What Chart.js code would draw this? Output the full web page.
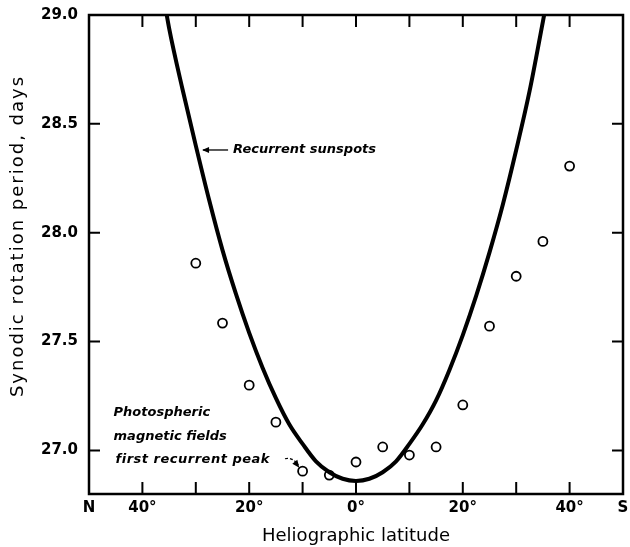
<!DOCTYPE html>
<html><head><meta charset="utf-8">
<script src="https://cdn.jsdelivr.net/npm/chart.js@4/dist/chart.umd.min.js"></script>
<style>html,body{margin:0;padding:0;background:#fff;}canvas{display:block;}</style>
</head><body>
<canvas id="c" width="630" height="547"></canvas>
<script>
// Photospheric magnetic fields, first recurrent peak (circles)
const fieldLatitudes = [-30, -25, -20, -15, -10, -5, 0, 5, 10, 15, 20, 25, 30, 35, 40];
const fieldPeriods   = [27.86, 27.585, 27.30, 27.13, 26.905, 26.887, 26.947, 27.016, 26.979, 27.016, 27.209, 27.571, 27.80, 27.96, 28.306];
// Recurrent sunspots (curve)
const spotLatitudes = [-36, -35, -32.5, -30, -27.5, -25, -22.5, -20, -17.5, -15, -12.5, -10, -7.5, -5, -2.5, 0, 2.5, 5, 7.5, 10, 12.5, 15, 17.5, 20, 22.5, 25, 27.5, 30, 32.5, 35, 36];
const spotPeriods   = [29.08, 28.94, 28.66, 28.40, 28.15, 27.92, 27.72, 27.54, 27.38, 27.24, 27.12, 27.03, 26.95, 26.90, 26.87, 26.86, 26.87, 26.90, 26.95, 27.03, 27.12, 27.23, 27.37, 27.53, 27.71, 27.91, 28.13, 28.38, 28.65, 28.97, 29.10];
// Axis ticks
const xTickValues = [-50, -40, -30, -20, -10, 0, 10, 20, 30, 40, 50];
const xTickLabels = ['N', '40°', '', '20°', '', '0°', '', '20°', '', '40°', 'S'];
const yTickValues = [27.0, 27.5, 28.0, 28.5, 29.0];
const yTitle = 'Synodic rotation period, days';

const FONT = "'DejaVu Sans', sans-serif";

const framePlugin = {
  id: 'frame',
  afterDatasetsDraw(chart) {
    const {ctx, chartArea: a, scales: {x, y}} = chart;
    ctx.save();
    ctx.strokeStyle = '#000';
    ctx.lineWidth = 2.5;
    ctx.strokeRect(a.left, a.top, a.right - a.left, a.bottom - a.top);
    ctx.lineWidth = 2;
    ctx.beginPath();
    xTickValues.forEach(v => {
      if (v <= -50 || v >= 50) return;
      const px = x.getPixelForValue(v);
      ctx.moveTo(px, a.bottom); ctx.lineTo(px, a.bottom - 12);
      ctx.moveTo(px, a.top); ctx.lineTo(px, a.top + 12);
    });
    yTickValues.forEach(v => {
      if (v >= 29) return;
      const py = y.getPixelForValue(v);
      ctx.moveTo(a.left, py); ctx.lineTo(a.left + 11, py);
      ctx.moveTo(a.right, py); ctx.lineTo(a.right - 11, py);
    });
    ctx.stroke();

    // y axis title (wide-spaced)
    ctx.save();
    ctx.translate(18, 236);
    ctx.rotate(-Math.PI / 2);
    ctx.font = "18px " + FONT;
    ctx.letterSpacing = '2px';
    ctx.textAlign = 'center';
    ctx.textBaseline = 'middle';
    ctx.fillStyle = '#000';
    ctx.fillText(yTitle, 0, 0);
    ctx.restore();

    // annotations
    ctx.fillStyle = '#000';
    ctx.font = "italic bold 13px " + FONT;
    ctx.textBaseline = 'middle';
    ctx.textAlign = 'left';
    const ry = y.getPixelForValue(28.38);
    const rx = x.getPixelForValue(-29.2);
    ctx.fillText('Recurrent sunspots', rx + 33, ry);
    ctx.lineWidth = 1.3;
    ctx.beginPath();
    ctx.moveTo(rx + 28, ry); ctx.lineTo(rx + 3, ry);
    ctx.stroke();
    ctx.beginPath();
    ctx.moveTo(rx + 2, ry); ctx.lineTo(rx + 9, ry - 3); ctx.lineTo(rx + 9, ry + 3); ctx.closePath();
    ctx.fill();

    const lx = x.getPixelForValue(-45.4);
    ctx.fillText('Photospheric', lx, y.getPixelForValue(27.172));
    ctx.fillText('magnetic fields', lx, y.getPixelForValue(27.062));
    ctx.save();
    ctx.letterSpacing = '0.5px';
    ctx.fillText('first recurrent peak', lx + 2, y.getPixelForValue(26.956));
    ctx.restore();
    // dashed curved arrow to the -10 point
    const ax = x.getPixelForValue(-13.3), ay = y.getPixelForValue(26.962);
    const bx = x.getPixelForValue(-10.8), by = y.getPixelForValue(26.925);
    ctx.setLineDash([3, 2]);
    ctx.lineWidth = 1.2;
    ctx.beginPath();
    ctx.moveTo(ax, ay);
    ctx.quadraticCurveTo(bx - 6, ay - 2, bx, by - 2);
    ctx.stroke();
    ctx.setLineDash([]);
    ctx.beginPath();
    ctx.moveTo(bx + 1, by + 1); ctx.lineTo(bx - 6, by - 3); ctx.lineTo(bx - 1, by - 7); ctx.closePath();
    ctx.fill();
    ctx.restore();
  }
};

new Chart(document.getElementById('c'), {
  type: 'scatter',
  data: {
    datasets: [
      {
        label: 'Recurrent sunspots',
        data: spotLatitudes.map((v, i) => ({x: v, y: spotPeriods[i]})),
        showLine: true,
        borderColor: '#000',
        borderWidth: 4,
        pointRadius: 0,
        cubicInterpolationMode: 'monotone',
        fill: false
      },
      {
        label: 'Photospheric magnetic fields first recurrent peak',
        data: fieldLatitudes.map((v, i) => ({x: v, y: fieldPeriods[i]})),
        showLine: false,
        pointRadius: 4.5,
        pointBorderWidth: 1.8,
        pointBorderColor: '#000',
        pointBackgroundColor: '#fff'
      }
    ]
  },
  options: {
    responsive: false,
    animation: false,
    devicePixelRatio: 1,
    layout: {padding: {top: 15, right: 7, left: 0, bottom: 0}},
    plugins: {legend: {display: false}, tooltip: {enabled: false}},
    scales: {
      x: {
        type: 'linear', min: -50, max: 50,
        afterBuildTicks: s => { s.ticks = xTickValues.map(v => ({value: v})); },
        afterFit: s => { s.height = 53; s.paddingLeft = 0; s.paddingRight = 0; },
        grid: {display: false, drawTicks: false},
        border: {display: false},
        ticks: {
          autoSkip: false, maxRotation: 0, padding: 5, color: '#000',
          font: {family: FONT, size: 15, weight: 'bold'},
          callback: (v) => { const i = xTickValues.indexOf(v); return i >= 0 ? xTickLabels[i] : ''; }
        },
        title: {display: true, text: 'Heliographic latitude', color: '#000',
          font: {family: FONT, size: 18}, padding: {top: 3, bottom: 0}}
      },
      y: {
        type: 'linear', min: 26.8, max: 29.0,
        afterBuildTicks: s => { s.ticks = yTickValues.map(v => ({value: v})); },
        afterFit: s => { s.width = 89; s.paddingTop = 0; s.paddingBottom = 0; },
        grid: {display: false, drawTicks: false},
        border: {display: false},
        ticks: {
          padding: 11, color: '#000',
          font: {family: FONT, size: 15, weight: 'bold'},
          callback: v => Number(v).toFixed(1)
        },
        title: {display: false}
      }
    }
  },
  plugins: [framePlugin]
});
</script>
</body></html>
